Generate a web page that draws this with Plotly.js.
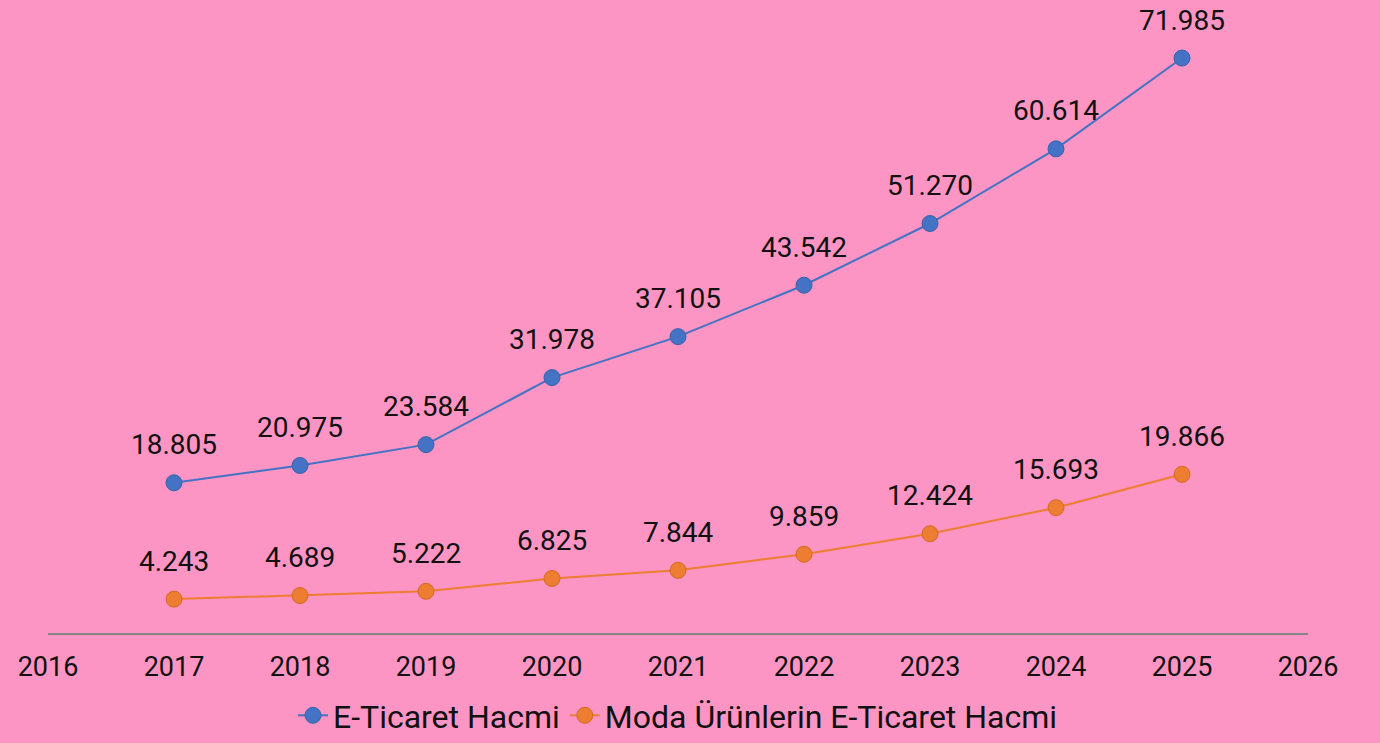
<!DOCTYPE html>
<html>
<head>
<meta charset="utf-8">
<script src="https://cdn.plot.ly/plotly-3.0.1.min.js"></script>
<style>
  html, body { margin: 0; padding: 0; background: #FC95C3; }
  #chart { width: 1380px; height: 743px; }
</style>
</head>
<body>
<div id="chart"></div>
<script>
// years on the x axis
const years = [2017, 2018, 2019, 2020, 2021, 2022, 2023, 2024, 2025]
// volumes
const eTicaret = [18805, 20975, 23584, 31978, 37105, 43542, 51270, 60614, 71985]
const modaETicaret = [4243, 4689, 5222, 6825, 7844, 9859, 12424, 15693, 19866]

const labelFont = {family: 'Roboto, sans-serif', size: 27, color: '#111111'}

const newTrace = (y, name, color, lineColor) => {
	const trace = {
		type: 'scatter',
		mode: 'lines+markers',
		name: name,
		x: years,
		y: y,
		line: {color: color, width: 2},
		marker: {color: color, size: 16, line: {color: lineColor, width: 1}},
		hoverinfo: 'skip',
		cliponaxis: false
	}
	return trace
}

// value labels above each point
const nf = new Intl.NumberFormat('de-DE')
const newLabels = y => y.map((v, i) => ({
	x: years[i],
	y: v,
	text: nf.format(v),
	showarrow: false,
	yshift: 38,
	yanchor: 'middle',
	font: {family: 'Roboto, sans-serif', size: 28, color: '#111111'}
}))

const data = [
	newTrace(eTicaret, 'E-Ticaret Hacmi', '#4472C4', '#3A62AA'),
	newTrace(modaETicaret, 'Moda Ürünlerin E-Ticaret Hacmi', '#ED7D31', '#D26A22')
]

const layout = {
	width: 1380,
	height: 743,
	paper_bgcolor: '#FC95C3',
	plot_bgcolor: '#FC95C3',
	margin: {l: 48, r: 72, t: 10, b: 110},
	font: labelFont,
	showlegend: true,
	annotations: newLabels(eTicaret).concat(newLabels(modaETicaret)),
	legend: {
		orientation: 'h',
		x: 0.5,
		xanchor: 'center',
		yref: 'container',
		y: -0.007,
		yanchor: 'bottom',
		font: {family: 'Roboto, sans-serif', size: 32, color: '#111111'},
		bgcolor: 'rgba(0,0,0,0)'
	},
	xaxis: {
		range: [2016, 2026],
		tickvals: [2016, 2017, 2018, 2019, 2020, 2021, 2022, 2023, 2024, 2025, 2026],
		tickformat: 'd',
		showgrid: false,
		zeroline: false,
		showline: true,
		linecolor: '#868686',
		linewidth: 2,
		ticks: '',
		ticklabelstandoff: 9,
		tickfont: labelFont
	},
	yaxis: {
		range: [0, 78000],
		visible: false,
		showgrid: false,
		zeroline: false
	}
}

Plotly.newPlot('chart', data, layout, {displayModeBar: false, staticPlot: true})
</script>
</body>
</html>
